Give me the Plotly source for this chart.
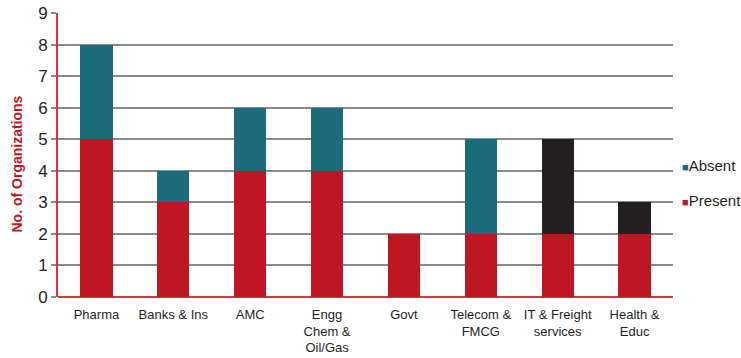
import plotly.graph_objects as go

categories = ["Pharma", "Banks & Ins", "AMC", "Engg<br>Chem &<br>Oil/Gas", "Govt",
              "Telecom &<br>FMCG", "IT & Freight<br>services", "Health &<br>Educ"]
present = [5, 3, 4, 4, 2, 2, 2, 2]
absent = [3, 1, 2, 2, 0, 3, 3, 1]
absent_colors = ["#1b6b7b"] * 6 + ["#231f20", "#231f20"]
legend_items = [("Absent", "#1b6b7b"), ("Present", "#be1622")]

RED = "#be1622"
FONT = "Liberation Sans Narrow, Arial Narrow, sans-serif"

fig = go.Figure()
fig.add_trace(go.Bar(x=categories, y=present, name="Present",
                     marker=dict(color=RED, line=dict(width=0))))
fig.add_trace(go.Bar(x=categories, y=absent, name="Absent",
                     marker=dict(color=absent_colors, line=dict(width=0))))

# custom legend (small squares next to text)
for i, (name, col) in enumerate(legend_items):
    fig.add_annotation(xref="paper", yref="paper", x=1.011, y=0.462 - i * 0.123,
                       xanchor="left", yanchor="middle", showarrow=False,
                       text=f"<span style='color:{col};font-size:11px'>■</span>{name}",
                       font=dict(family=FONT, size=15, color="#231f20"))

fig.add_annotation(xref="paper", yref="paper", x=-0.066, y=0.468, textangle=-90,
                   xanchor="center", yanchor="middle", showarrow=False,
                   text="<b>No. of Organizations</b>",
                   font=dict(family=FONT, size=14, color=RED))

fig.update_layout(
    barmode="stack",
    bargap=0.58,
    width=741, height=358,
    margin=dict(l=58, r=68, t=13, b=61, autoexpand=False),
    plot_bgcolor="white", paper_bgcolor="white",
    font=dict(family=FONT, size=14, color="#231f20"),
    showlegend=False,
    xaxis=dict(showline=False, ticks="outside", ticklen=5, tickcolor="rgba(0,0,0,0)",
               tickangle=0, tickfont=dict(size=13)),
    yaxis=dict(range=[0, 9], dtick=1, showgrid=True, gridcolor="#8a8a8a", gridwidth=2,
               showline=True, linecolor="#d9343e", linewidth=2, ticks="outside", ticklen=5,
               tickcolor="#8a8a8a", tickwidth=2, tickfont=dict(size=17, family=FONT),
               zeroline=True, zerolinecolor="#d9343e", zerolinewidth=2),
)
fig.write_html("out.html")
